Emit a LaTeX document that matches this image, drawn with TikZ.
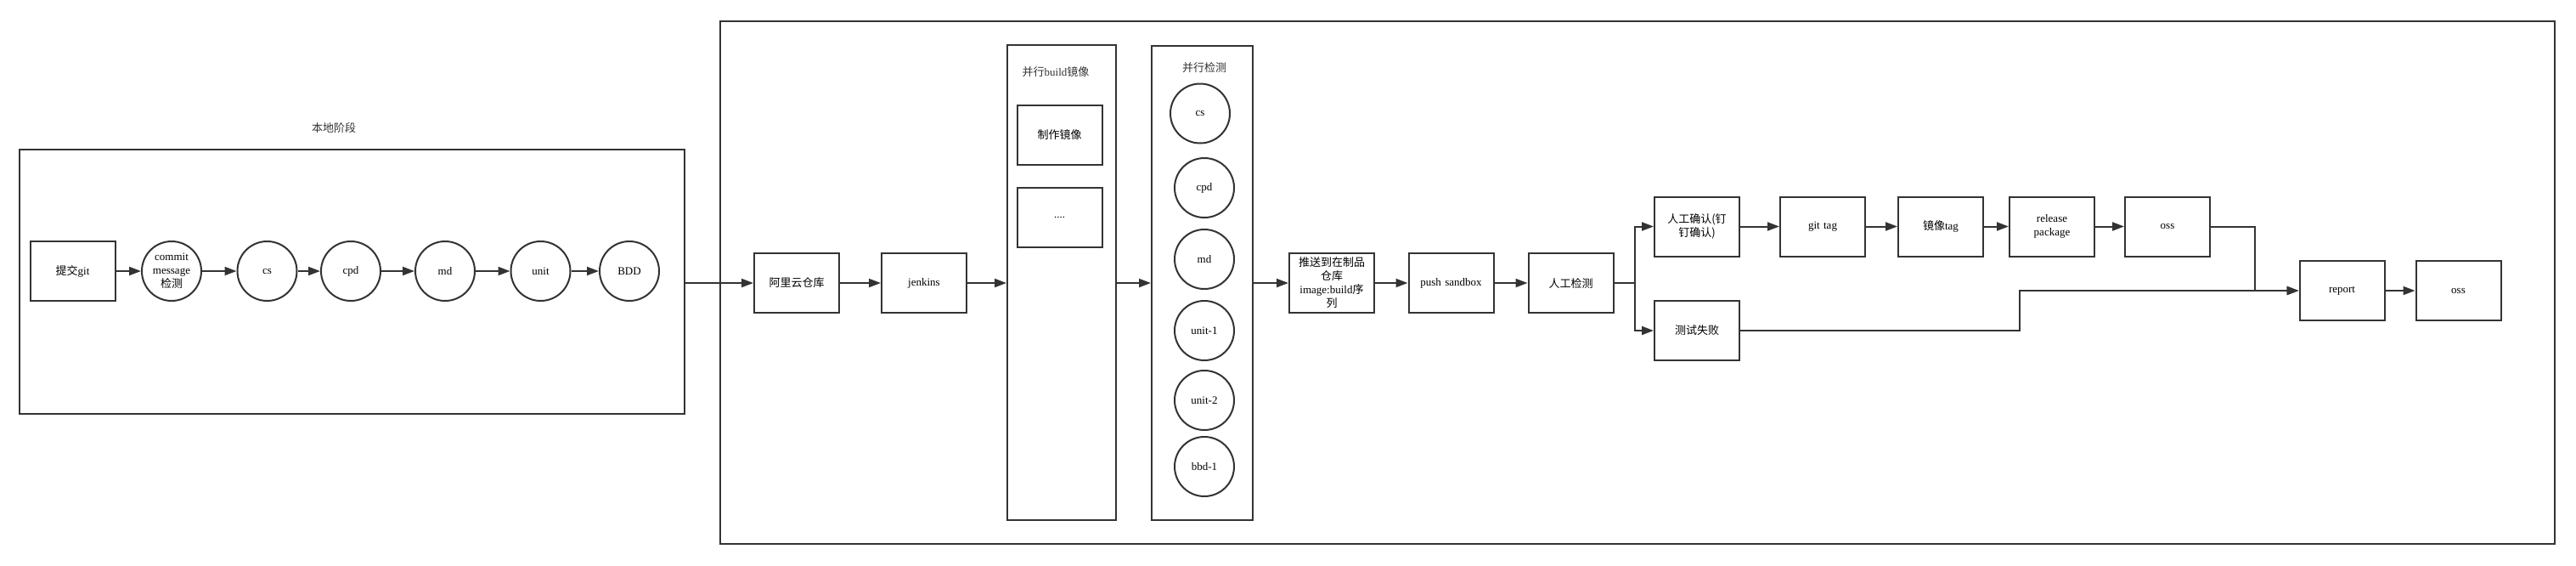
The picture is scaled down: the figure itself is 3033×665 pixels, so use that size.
\documentclass[tikz,border=0pt]{standalone}
\usepackage{fontspec}
\setmainfont{Liberation Serif}
\newfontfamily\cjk{Noto Sans CJK SC}
\usepackage{tikz}
\usetikzlibrary{arrows.meta}
\definecolor{clinea}{HTML}{333333}
\newcommand{\letra}{\fontsize{6.5}{8}\selectfont}
\tikzset{
  caja/.style={rectangle, draw=clinea, line width=1pt, fill=white,
    minimum width=50pt, minimum height=35pt, inner sep=1pt,
    text width=46pt, align=center, font=\letra},
  bola/.style={circle, draw=clinea, line width=1pt, fill=white,
    minimum size=35pt, inner sep=0pt, align=center, font=\letra},
  marco/.style={rectangle, draw=clinea, line width=1pt},
  flecha/.style={-{Triangle[length=7pt,width=5pt]}, line width=1pt, draw=clinea},
  rotulo/.style={font=\letra, text=clinea},
}

\begin{document}
\begin{tikzpicture}[x=0.5pt,y=-0.5pt]
  \useasboundingbox (0,0) rectangle (3033,665);
  % etapa local
  \node[rotulo] (tlocal) at (393,151) {{\cjk 本地阶段}};
  \node[marco, minimum width=391.5pt, minimum height=155.5pt] (local) at (414.5,331.5) {};
  \node[caja] (git) at (85.5,319) {{\cjk 提交}git};
  \node[bola] (commit) at (202,319) {commit\\message\\{\cjk 检测}};
  \node[bola] (cs) at (314.5,319) {cs};
  \node[bola] (cpd) at (413,319) {cpd};
  \node[bola] (md) at (524,319) {md};
  \node[bola] (unit) at (636.5,319) {unit};
  \node[bola] (bdd) at (741,319) {BDD};
  \draw[flecha] (git) -- (commit);
  \draw[flecha] (commit) -- (cs);
  \draw[flecha] (cs) -- (cpd);
  \draw[flecha] (cpd) -- (md);
  \draw[flecha] (md) -- (unit);
  \draw[flecha] (unit) -- (bdd);

  % etapa remota
  \node[marco, minimum width=1080pt, minimum height=307.5pt] (remoto) at (1928,332.5) {};
  \node[caja] (ali) at (938,333) {{\cjk 阿里云仓库}};
  \node[caja] (jenkins) at (1088,333) {jenkins};
  \node[marco, minimum width=64pt, minimum height=279.5pt] (build) at (1250,332.5) {};
  \node[rotulo] (tbuild) at (1243,85) {{\cjk 并行}build{\cjk 镜像}};
  \node[caja] (hacer) at (1247.5,158.5) {{\cjk 制作镜像}};
  \node[caja] (otros) at (1247.5,256) {....};
  \node[marco, minimum width=59.5pt, minimum height=279pt] (check) at (1415.5,332.5) {};
  \node[rotulo] (tcheck) at (1418,80) {{\cjk 并行检测}};
  \node[bola] (pcs) at (1413,133.5) {cs};
  \node[bola] (pcpd) at (1418,221) {cpd};
  \node[bola] (pmd) at (1418,305) {md};
  \node[bola] (punit1) at (1418,389) {unit-1};
  \node[bola] (punit2) at (1418,471) {unit-2};
  \node[bola] (pbbd) at (1418,549) {bbd-1};
  \node[caja] (push) at (1568,333) {{\cjk 推送到在制品}\\{\cjk 仓库}\\image:build{\cjk 序}\\{\cjk 列}};
  \node[caja] (sandbox) at (1708.5,333) {push sandbox};
  \node[caja] (manual) at (1849.5,333) {{\cjk 人工检测}};
  \node[caja] (confirm) at (1998,266.5) {{\cjk 人工确认(钉}\\{\cjk 钉确认)}};
  \node[caja] (fail) at (1998,389) {{\cjk 测试失败}};
  \node[caja] (gittag) at (2146,266.5) {git tag};
  \node[caja] (imgtag) at (2285,266.5) {{\cjk 镜像}tag};
  \node[caja] (release) at (2416,266.5) {release\\package};
  \node[caja] (oss) at (2552,266.5) {oss};
  \node[caja] (report) at (2757.5,342) {report};
  \node[caja] (oss2) at (2894.5,342) {oss};
  \coordinate (union) at (2655,342);
  \coordinate (cruce) at (2378,342);

  \draw[flecha] (ali.west -| local.east) -- (ali.west);
  \draw[flecha] (ali) -- (jenkins);
  \draw[flecha] (jenkins.east) -- (jenkins.east -| build.west);
  \draw[flecha] (jenkins.east -| build.east) -- (jenkins.east -| check.west);
  \draw[flecha] (push.west -| check.east) -- (push.west);
  \draw[flecha] (push) -- (sandbox);
  \draw[flecha] (sandbox) -- (manual);
  \draw[flecha] (manual.east) -- ++(24,0) |- (confirm.west);
  \draw[flecha] (manual.east) -- ++(24,0) |- (fail.west);
  \draw[flecha] (confirm) -- (gittag);
  \draw[flecha] (gittag) -- (imgtag);
  \draw[flecha] (imgtag) -- (release);
  \draw[flecha] (release) -- (oss);
  \draw[flecha] (oss.east) -| (union) -- (report.west);
  \draw[flecha] (fail.east) -| (cruce) -- (report.west);
  \draw[flecha] (report) -- (oss2);
\end{tikzpicture}
\end{document}
